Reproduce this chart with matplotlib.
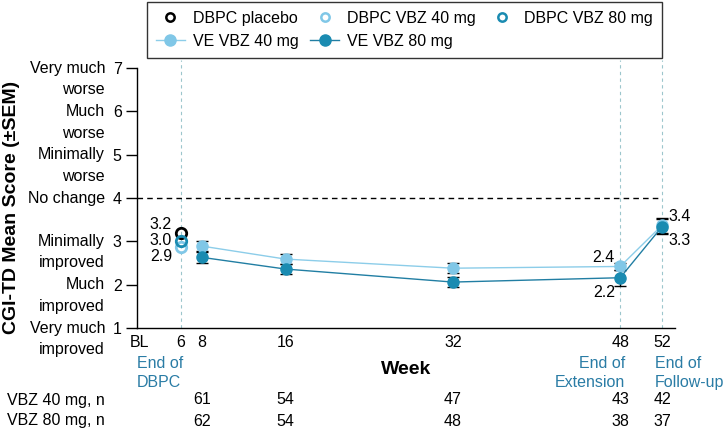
import matplotlib

matplotlib.use("Agg")

import matplotlib.pyplot as plt
import matplotlib.transforms as mtransforms
from matplotlib.lines import Line2D

plt.rcParams["font.family"] = ["Liberation Sans", "DejaVu Sans"]

# double-blind placebo-controlled period (week 6)
dbpc_week = 6
dbpc_placebo = 3.2
dbpc_vbz40 = 2.88
dbpc_vbz80 = 3.0

# open-label extension
weeks = [8, 16, 32, 48, 52]
ve_vbz40 = [2.89, 2.59, 2.38, 2.42, 3.37]
ve_vbz40_sem = [0.12, 0.12, 0.12, 0.08, 0.17]
ve_vbz80 = [2.63, 2.36, 2.06, 2.16, 3.34]
ve_vbz80_sem = [0.13, 0.11, 0.12, 0.18, 0.17]

n_vbz40 = [61, 54, 47, 43, 42]
n_vbz80 = [62, 54, 48, 38, 37]

xtick_pos = [2, 6, 8, 16, 32, 48, 52]
xtick_labels = ["BL", "6", "8", "16", "32", "48", "52"]
milestone_weeks = [6, 48, 52]

ytick_pos = [1, 2, 3, 4, 5, 6, 7]
ycat_labels = [
    ("Very much", "improved"),
    ("Much", "improved"),
    ("Minimally", "improved"),
    ("No change", None),
    ("Minimally", "worse"),
    ("Much", "worse"),
    ("Very much", "worse"),
]

LIGHT = "#80c7e7"
LIGHT_LINE = "#8ccde9"
DARK = "#1a8bb1"
DARK_LINE = "#217ea3"
TEAL_TEXT = "#2a7ca5"
FS = 11.5

fig = plt.figure(figsize=(7.24, 4.30), dpi=100)
ax = fig.add_axes([137 / 724, 1 - 328 / 430, 538 / 724, 260 / 430])
ax.set_xlim(1.79, 53.24)
ax.set_ylim(1, 7)

for s in ["top", "right"]:
    ax.spines[s].set_visible(False)
ax.spines["left"].set_linewidth(1)
ax.spines["bottom"].set_linewidth(1)

# milestone guides and "no change" reference
for w in milestone_weeks:
    ax.axvline(w, ymin=0, ymax=1.03, color="#9cc6cc", lw=0.8, ls=(0, (3, 3)),
               clip_on=False, zorder=1)
ax.hlines(4, 1.79, 52, color="black", lw=1, ls=(0, (4, 3)), zorder=1)

# extension series
ax.errorbar(weeks, ve_vbz40, yerr=ve_vbz40_sem, fmt="none", ecolor="black",
            elinewidth=1, capsize=4, capthick=1, zorder=2)
ax.errorbar(weeks, ve_vbz80, yerr=ve_vbz80_sem, fmt="none", ecolor="black",
            elinewidth=1, capsize=4, capthick=1, zorder=2)
ax.plot(weeks, ve_vbz40, color=LIGHT_LINE, lw=1, marker="o", ms=8,
        mfc=LIGHT, mec=LIGHT, zorder=4)
ax.plot(weeks, ve_vbz80, color=DARK_LINE, lw=1, marker="o", ms=8,
        mfc=DARK, mec=DARK, zorder=5)

# DBPC open markers
ax.plot([dbpc_week], [dbpc_placebo], "o", ms=7.5, mfc="none", mec="black", mew=2, zorder=5)
ax.plot([dbpc_week], [dbpc_vbz40], "o", ms=7.5, mfc="none", mec=LIGHT, mew=2, zorder=5)
ax.plot([dbpc_week], [dbpc_vbz80], "o", ms=7.5, mfc="none", mec=DARK, mew=2, zorder=6)

# value labels
ax.text(5.14, 3.40, f"{dbpc_placebo:.1f}", ha="right", va="center", fontsize=FS)
ax.text(5.14, 3.03, f"{dbpc_vbz80:.1f}", ha="right", va="center", fontsize=FS)
ax.text(5.14, 2.66, f"{dbpc_vbz40:.1f}", ha="right", va="center", fontsize=FS)
ax.text(47.5, 2.62, f"{ve_vbz40[3]:.1f}", ha="right", va="center", fontsize=FS)
ax.text(47.5, 1.82, f"{ve_vbz80[3]:.1f}", ha="right", va="center", fontsize=FS)
ax.text(52.65, 3.57, f"{ve_vbz40[4]:.1f}", ha="left", va="center", fontsize=FS)
ax.text(52.65, 3.03, f"{ve_vbz80[4]:.1f}", ha="left", va="center", fontsize=FS)

# axes ticks
ax.set_yticks(ytick_pos)
ax.set_yticklabels([str(v) for v in ytick_pos], fontsize=FS)
ax.tick_params(axis="y", length=8, width=1, pad=3)
ax.set_xticks(xtick_pos)
ax.set_xticklabels(xtick_labels, fontsize=FS)
ax.tick_params(axis="x", length=0, pad=5)

# category labels next to y ticks
ytrans = mtransforms.blended_transform_factory(fig.transFigure, ax.transData)
for y, (l1, l2) in zip(ytick_pos, ycat_labels):
    ax.text(105 / 724, y, l1, transform=ytrans, ha="right", va="center",
            fontsize=FS, clip_on=False)
    if l2:
        ax.text(105 / 724, y - 0.5, l2, transform=ytrans, ha="right",
                va="center", fontsize=FS, clip_on=False)

fig.text(12 / 724, 1 - 207 / 430, "CGI-TD Mean Score (\u00b1SEM)", rotation=90,
         ha="center", va="center", fontsize=14, fontweight="bold")

# milestone captions under the x axis
xtrans = mtransforms.blended_transform_factory(ax.transData, fig.transFigure)
ax.text(1.79, 1 - 373 / 430, "End of\nDBPC", transform=xtrans, ha="left",
        va="center", color=TEAL_TEXT, fontsize=FS, linespacing=1.3)
ax.text(48.5, 1 - 373 / 430, "End of\nExtension", transform=xtrans, ha="right",
        va="center", multialignment="right", color=TEAL_TEXT, fontsize=FS,
        linespacing=1.3)
ax.text(51.3, 1 - 373 / 430, "End of\nFollow-up", transform=xtrans, ha="left",
        va="center", color=TEAL_TEXT, fontsize=FS, linespacing=1.3)
fig.text(406 / 724, 1 - 370 / 430, "Week", ha="center", va="center",
         fontsize=14, fontweight="bold")

# patient counts
for y_px, label, counts in [(400, "VBZ 40 mg, n", n_vbz40),
                            (421, "VBZ 80 mg, n", n_vbz80)]:
    fig.text(105 / 724, 1 - y_px / 430, label, ha="right", va="center", fontsize=FS)
    for w, n in zip(weeks, counts):
        ax.text(w, 1 - y_px / 430, str(n), transform=xtrans, ha="center",
                va="center", fontsize=FS)

# legend
handles = [
    Line2D([], [], ls="none", marker="o", ms=6, mfc="none", mec="black", mew=1.8),
    Line2D([], [], color=LIGHT_LINE, lw=1, marker="o", ms=8, mfc=LIGHT, mec=LIGHT),
    Line2D([], [], ls="none", marker="o", ms=6, mfc="none", mec=LIGHT, mew=1.8),
    Line2D([], [], color=DARK_LINE, lw=1, marker="o", ms=8, mfc=DARK, mec=DARK),
    Line2D([], [], ls="none", marker="o", ms=6, mfc="none", mec=DARK, mew=1.8),
]
labels = ["DBPC placebo", "VE VBZ 40 mg", "DBPC VBZ 40 mg", "VE VBZ 80 mg",
          "DBPC VBZ 80 mg"]
leg = fig.legend(handles, labels, ncol=3, loc="upper left",
                 bbox_to_anchor=(147 / 724, 1 - 2 / 430), borderaxespad=0,
                 fontsize=FS, frameon=True, fancybox=False, edgecolor="black",
                 handlelength=1.8, handletextpad=0.5, columnspacing=0.75,
                 labelspacing=0.5, borderpad=0.55)
leg.get_frame().set_linewidth(1)

fig.savefig("out.png", dpi=100)
